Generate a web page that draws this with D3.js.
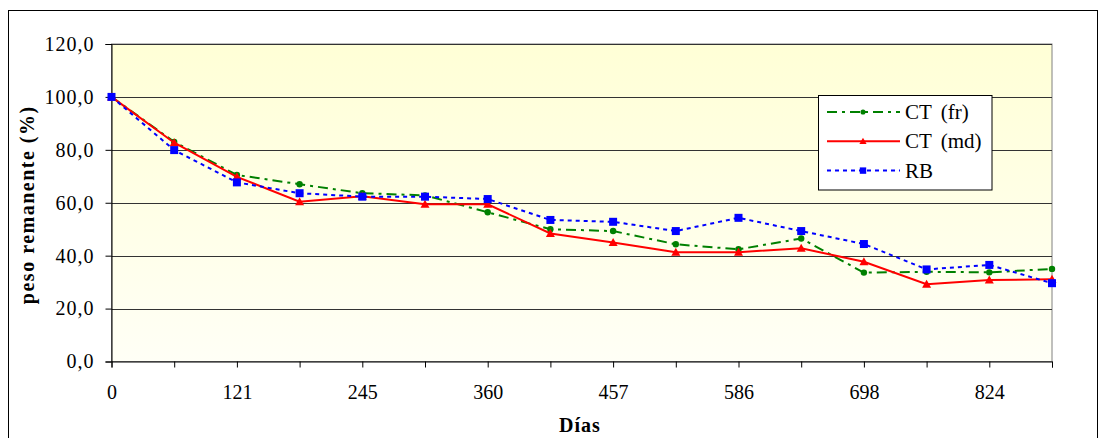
<!DOCTYPE html>
<html>
<head>
<meta charset="utf-8">
<script src="https://cdn.jsdelivr.net/npm/d3@7/dist/d3.min.js"></script>
<style>
  html, body { margin: 0; padding: 0; background: #fff; }
  #chart { display: block; font-family: 'Liberation Serif'; }
  #chart text { font-family: 'Liberation Serif'; }
</style>
</head>
<body>
<svg id="chart" width="1107" height="438"></svg>
<script>
// Días de muestreo (una etiqueta de cada dos se muestra en el eje)
const dias = ["0", "60", "121", "183", "245", "304", "360", "410", "457", "520", "586", "642", "698", "760", "824", "880"];
// Peso remanente (%) por tratamiento
const ctFr = [100, 83.0, 70.5, 67.0, 63.6, 62.8, 56.4, 50.0, 49.3, 44.3, 42.4, 46.5, 33.6, 33.9, 33.7, 35.0];
const ctMd = [100, 82.7, 69.8, 60.4, 62.5, 59.4, 59.4, 48.4, 45.0, 41.3, 41.3, 42.8, 37.7, 29.2, 30.8, 31.1];
const rb   = [100, 79.9, 67.7, 63.6, 62.3, 62.3, 61.4, 53.5, 52.8, 49.3, 54.3, 49.3, 44.4, 34.8, 36.5, 29.6];
const yTicks = [0, 20, 40, 60, 80, 100, 120];

const series = [
  { name: "CT (fr)", values: ctFr, color: "#008000", dash: "10,5,3,5", marker: "circle" },
  { name: "CT (md)", values: ctMd, color: "#FF0000", dash: null, marker: "triangle" },
  { name: "RB",      values: rb,   color: "#0000FF", dash: "4,4",   marker: "square" }
];

const svg = d3.select("#chart");
const plot = { left: 111.5, right: 1052, top: 44, bottom: 361.5 };

// Marco exterior del gráfico
svg.append("rect")
  .attr("x", 8.5).attr("y", 10.5)
  .attr("width", 1089).attr("height", 440)
  .attr("fill", "#fff").attr("stroke", "#000").attr("stroke-width", 1);

const x = d3.scalePoint().domain(dias).range([plot.left, plot.right]);
const y = d3.scaleLinear().domain([0, 120]).range([plot.bottom, plot.top]);

// Fondo degradado del área de trazado
const defs = svg.append("defs");
const grad = defs.append("linearGradient").attr("id", "fondo")
  .attr("x1", 0).attr("y1", 0).attr("x2", 0).attr("y2", 1);
grad.append("stop").attr("offset", "0%").attr("stop-color", "#FFFFD6");
grad.append("stop").attr("offset", "100%").attr("stop-color", "#FFFFF6");

svg.append("rect")
  .attr("x", plot.left).attr("y", plot.top)
  .attr("width", plot.right - plot.left).attr("height", plot.bottom - plot.top)
  .attr("fill", "url(#fondo)")
  .attr("stroke", "#808080").attr("stroke-width", 1);

// Líneas de división horizontales
svg.append("g").selectAll("line")
  .data(yTicks.filter(d => d > 0))
  .join("line")
  .attr("x1", plot.left).attr("x2", plot.right)
  .attr("y1", d => Math.round(y(d)) + 0.5).attr("y2", d => Math.round(y(d)) + 0.5)
  .attr("stroke", "#333").attr("stroke-width", 1);

// Eje Y
const yAxis = svg.append("g")
  .attr("transform", `translate(${plot.left},0)`)
  .call(d3.axisLeft(y).tickValues(yTicks).tickSizeOuter(0).tickSize(6).tickPadding(12)
    .tickFormat(d => d3.format(".1f")(d).replace(".", ",")));
yAxis.attr("font-family", null).attr("font-size", null);
yAxis.select(".domain").attr("stroke", "#000");
yAxis.selectAll(".tick line").attr("stroke", "#000");
yAxis.selectAll("text").attr("font-size", 20).attr("fill", "#000")
  .style("letter-spacing", "1px").attr("dx", 1);

// Eje X
const xAxis = svg.append("g")
  .attr("transform", `translate(0,${plot.bottom})`)
  .call(d3.axisBottom(x).tickSizeOuter(0).tickSize(6).tickPadding(17)
    .tickFormat((d, i) => i % 2 === 0 ? d : ""));
xAxis.attr("font-family", null).attr("font-size", null);
xAxis.select(".domain").attr("stroke", "#000");
xAxis.selectAll(".tick line").attr("stroke", "#000");
xAxis.selectAll("text").attr("font-size", 20).attr("fill", "#000");

// Títulos de los ejes
svg.append("text")
  .attr("x", 580).attr("y", 432)
  .attr("text-anchor", "middle").attr("font-size", 20).attr("font-weight", "bold")
  .style("letter-spacing", "1px")
  .text("Días");
svg.append("text")
  .attr("transform", `translate(34,${(plot.top + plot.bottom) / 2 + 2}) rotate(-90)`)
  .attr("text-anchor", "middle").attr("font-size", 20).attr("font-weight", "bold")
  .style("letter-spacing", "1.5px")
  .text("peso remanente (%)");

// Marcadores
function drawMarker(g, type, color, cx, cy, k = 1) {
  if (type === "circle") {
    g.append("circle").attr("cx", cx).attr("cy", cy).attr("r", 3.2 * k).attr("fill", color);
  } else if (type === "triangle") {
    g.append("path")
      .attr("d", `M${cx},${cy - 4.5 * k}L${cx + 4.5 * k},${cy + 3.5 * k}L${cx - 4.5 * k},${cy + 3.5 * k}Z`)
      .attr("fill", color);
  } else {
    const h = 4 * k;
    g.append("rect").attr("x", cx - h).attr("y", cy - h).attr("width", 2 * h).attr("height", 2 * h).attr("fill", color);
  }
}

const line = d3.line().x((d, i) => x(dias[i])).y(d => y(d));

series.forEach(s => {
  const g = svg.append("g");
  g.append("path")
    .datum(s.values)
    .attr("d", line)
    .attr("fill", "none")
    .attr("stroke", s.color)
    .attr("stroke-width", 2)
    .attr("stroke-dasharray", s.dash);
  s.values.forEach((v, i) => drawMarker(g, s.marker, s.color, x(dias[i]), y(v)));
});

// Leyenda
const leg = svg.append("g");
leg.append("rect")
  .attr("x", 818.5).attr("y", 95.5).attr("width", 173.5).attr("height", 94.5)
  .attr("fill", "#fff").attr("stroke", "#000").attr("stroke-width", 1);
series.forEach((s, i) => {
  const ly = 112 + i * 29.3;
  leg.append("line")
    .attr("x1", 827).attr("x2", 900).attr("y1", ly).attr("y2", ly)
    .attr("stroke", s.color).attr("stroke-width", 2)
    .attr("stroke-dasharray", s.dash);
  drawMarker(leg, s.marker, s.color, 863, ly, 0.8);
  leg.append("text")
    .attr("x", 905).attr("y", ly + 7)
    .attr("font-size", 21).attr("fill", "#000")
    .style("word-spacing", "4px")
    .text(s.name);
});
</script>
</body>
</html>
